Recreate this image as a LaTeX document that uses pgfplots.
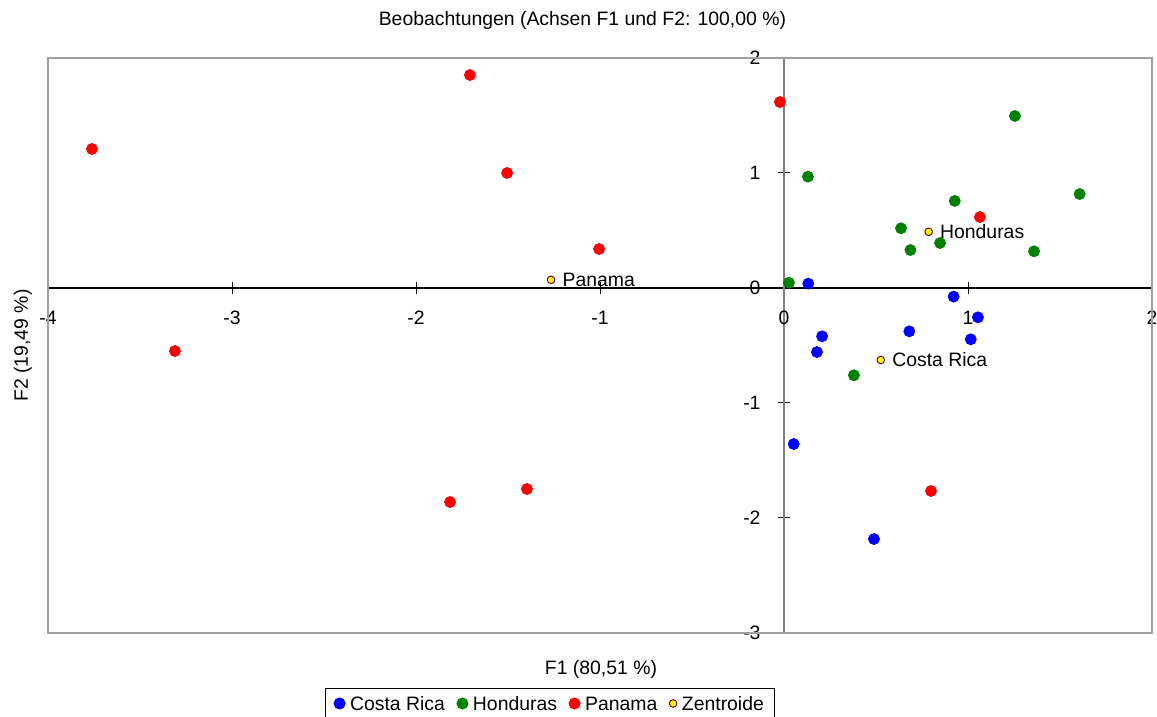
\documentclass[border=0pt]{standalone}
\usepackage{fontspec}
\setmainfont{Liberation Sans}
\usepackage{pgfplots}
\pgfplotsset{compat=1.18}

\definecolor{crblue}{RGB}{0,0,255}
\definecolor{hogreen}{RGB}{0,128,0}
\definecolor{pared}{RGB}{255,0,0}
\definecolor{zbord}{RGB}{128,0,0}
\definecolor{zfill}{RGB}{255,255,0}
\definecolor{framegray}{RGB}{160,160,160}
\definecolor{axgray}{RGB}{128,128,128}

\begin{document}
\fontsize{9.7pt}{11.6pt}\selectfont
\begin{tikzpicture}
\begin{axis}[
  scale only axis, width=552pt, height=287.5pt,
  xmin=-4, xmax=2, ymin=-3, ymax=2,
  axis x line=middle, axis y line=middle,
  x axis line style={black, line width=0.8pt, -},
  y axis line style={axgray, line width=0.8pt, -},
  hide obscured x ticks=false, hide obscured y ticks=false,
  xtick={-4,-3,-2,-1,0,1,2}, ytick={-3,-2,-1,0,1,2},
  minor tick num=0,
  tick align=center, major tick length=6pt,
  tick style={black, line width=0.5pt},
  /pgf/number format/assume math mode=true,
  xticklabel style={anchor=north, yshift=-5pt},
  yticklabel style={anchor=east, xshift=-5.3pt},
  clip=false,
  title={Beobachtungen (Achsen F1 und F2: 100,00 \%)},
  every axis title/.style={at={(axis description cs:0.4841,1.0696)}, anchor=center, yshift=-1.5pt},
  xlabel={F1 (80,51 \%)},
  every axis x label/.style={at={(axis description cs:0.5009,-0.0603)}, anchor=center, yshift=-1pt},
  ylabel={F2 (19,49 \%)},
  every axis y label/.style={at={(axis description cs:-0.0249,0.5)}, anchor=center, rotate=90, yshift=-1.2pt},
  legend columns=-1,
  legend style={at={(axis description cs:0.4547,-0.0957)}, anchor=north,
    draw=black, line width=0.5pt, fill=white,
    inner xsep=4.5pt, inner ysep=1pt,
    nodes={inner sep=1pt, text height=8.95pt, text depth=2pt},
    /tikz/every odd column/.append style={column sep=1.5pt},
    /tikz/every even column/.append style={column sep=5pt}},
  legend image code/.code={\draw[mark repeat=2,mark phase=2,#1] plot coordinates {(0pt,0pt) (3pt,0pt) (6pt,0pt)};},
]
% frame around the plotting area
\draw[framegray, line width=0.6pt] (rel axis cs:0,0) rectangle (rel axis cs:1,1);

% Costa Rica
\addplot[only marks, mark=*, mark size=2.75pt, color=crblue] coordinates {
  (0.132,0.038) (0.922,-0.075) (1.054,-0.255) (0.681,-0.377) (0.207,-0.420)
  (0.179,-0.557) (1.015,-0.446) (0.053,-1.357) (0.489,-2.183)
};
\addlegendentry{Costa Rica}

% Honduras
\addplot[only marks, mark=*, mark size=2.75pt, color=hogreen] coordinates {
  (0.130,0.968) (1.255,1.496) (1.607,0.817) (0.928,0.757) (0.636,0.519)
  (0.687,0.330) (0.848,0.391) (1.359,0.319) (0.027,0.046) (0.380,-0.759)
};
\addlegendentry{Honduras}

% Panama
\addplot[only marks, mark=*, mark size=2.75pt, color=pared] coordinates {
  (-3.761,1.209) (-1.707,1.852) (-1.505,1.000) (-1.005,0.339) (-0.022,1.617)
  (-3.310,-0.548) (-1.815,-1.861) (-1.397,-1.748) (1.065,0.617) (0.799,-1.765)
};
\addlegendentry{Panama}

% class centroids with their names
\addplot[only marks, mark=*, mark size=1.9pt,
  mark options={fill=zfill, draw=zbord, line width=0.5pt},
  nodes near coords, point meta=explicit symbolic,
  every node near coord/.append style={anchor=west, inner sep=0pt, xshift=5.5pt, text=black}]
  table[meta=label, col sep=comma, row sep=\\] {
  x,y,label\\
  -1.266,0.071,Panama\\
  0.786,0.488,Honduras\\
  0.526,-0.626,Costa Rica\\
};
\addlegendentry{Zentroide}
\end{axis}
\pgfresetboundingbox
\path ([shift={(-24pt,-42pt)}]current axis.south west) rectangle ([shift={(2.5pt,29pt)}]current axis.north east);
\end{tikzpicture}
\end{document}
